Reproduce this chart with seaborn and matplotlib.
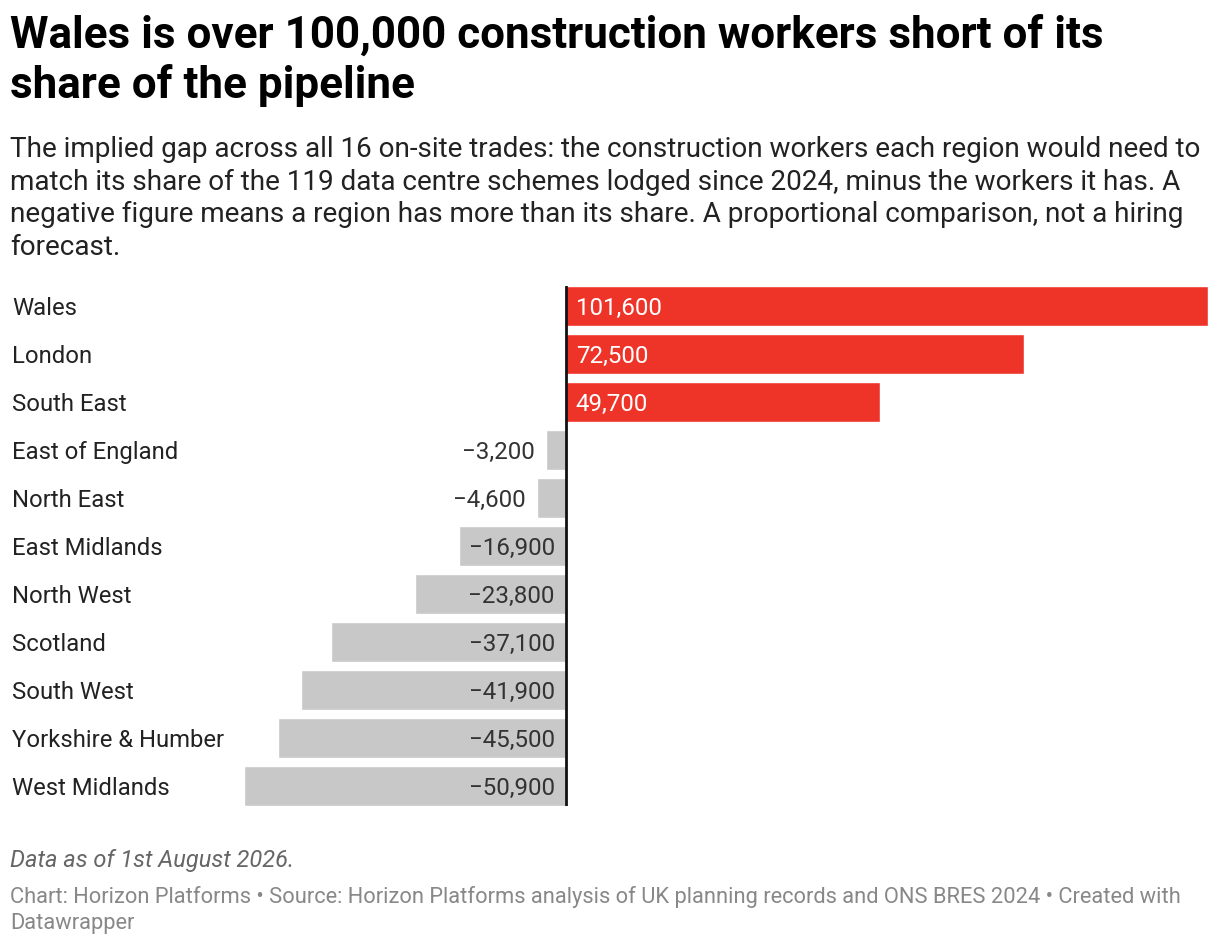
import numpy as np
import pandas as pd
import seaborn as sns
import matplotlib.pyplot as plt
import matplotlib.transforms as mtransforms

# data
regions = ["Wales", "London", "South East", "East of England", "North East",
           "East Midlands", "North West", "Scotland", "South West",
           "Yorkshire & Humber", "West Midlands"]
gap = [101600, 72500, 49700, -3200, -4600, -16900, -23800, -37100, -41900,
       -45500, -50900]

title = "Wales is over 100,000 construction workers short of its\nshare of the pipeline"
subtitle = ("The implied gap across all 16 on-site trades: the construction workers each region would need to\n"
            "match its share of the 119 data centre schemes lodged since 2024, minus the workers it has. A\n"
            "negative figure means a region has more than its share. A proportional comparison, not a hiring\n"
            "forecast.")
note = "Data as of 1st August 2026."
credit = ("Chart: Horizon Platforms \u2022 Source: Horizon Platforms analysis of UK planning records and ONS BRES 2024 \u2022 Created with\n"
          "Datawrapper")

sns.set_style("white")
plt.rcParams['font.family'] = ['Roboto', 'DejaVu Sans']

df = pd.DataFrame({"region": regions, "gap": gap})
df["side"] = np.where(df["gap"] > 0, "short", "surplus")

fig = plt.figure(figsize=(12.2, 9.46), dpi=100)
ax = fig.add_axes([244 / 1220, 1 - 806 / 946, (1208 - 244) / 1220, (806 - 286) / 946])

sns.barplot(data=df, x="gap", y="region", hue="side",
            palette={"short": "#ee3429", "surplus": "#c8c8c8"},
            width=0.833, dodge=False, legend=False, saturation=1, ax=ax)

ax.set_xlim(min(gap), max(gap))
ax.set_ylim(len(regions) - 1 + 0.4167, -0.4167)
ax.axvline(0, color="#111111", lw=2, zorder=5)
ax.set_axis_off()

# region names at the left edge of the figure
trans = mtransforms.blended_transform_factory(fig.transFigure, ax.transData)
for i, r in enumerate(regions):
    ax.text(12 / 1220, i, r, transform=trans, ha="left", va="center_baseline",
            fontsize=17.2, color="#222222")

# value labels
px_per_unit = (1208 - 244) / (max(gap) - min(gap))
for i, v in enumerate(gap):
    s = f"{abs(v):,}" if v > 0 else "\u2212" + f"{abs(v):,}"
    if v > 0:
        ax.annotate(s, (0, i), xytext=(10, 0), textcoords="offset pixels",
                    ha="left", va="center_baseline", fontsize=17.4, color="white")
    else:
        bar_px = abs(v) * px_per_unit
        x0 = 0 if bar_px > 60 else v
        ax.annotate(s, (x0, i), xytext=(-11, 0), textcoords="offset pixels",
                    ha="right", va="center_baseline", fontsize=17.4, color="#333333")

fig.text(10 / 1220, 1 - 14 / 946, title, ha="left", va="top", fontsize=31.7,
         fontweight="bold", color="#000000", linespacing=1.24)
fig.text(10 / 1220, 1 - 136 / 946, subtitle, ha="left", va="top", fontsize=20.1,
         color="#222222", linespacing=1.27)
fig.text(10 / 1220, 1 - 860 / 946, note, ha="left", va="center", fontsize=17,
         style="italic", color="#666666")
fig.text(10 / 1220, 1 - 886 / 946, credit, ha="left", va="top", fontsize=15.75,
         color="#888888", linespacing=1.29)

fig.savefig("out.png", dpi=100)
